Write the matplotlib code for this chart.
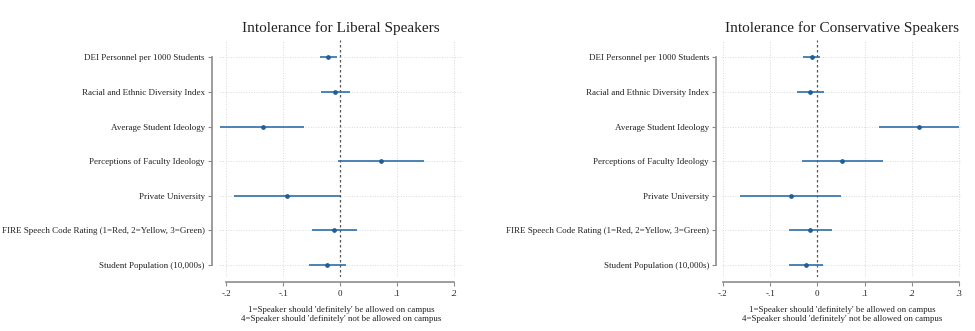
import matplotlib
matplotlib.use("Agg")
import matplotlib.pyplot as plt

labels = [
    "DEI Personnel per 1000 Students",
    "Racial and Ethnic Diversity Index",
    "Average Student Ideology",
    "Perceptions of Faculty Ideology",
    "Private University",
    "FIRE Speech Code Rating (1=Red, 2=Yellow, 3=Green)",
    "Student Population (10,000s)",
]

# Intolerance for liberal speakers
lib_coef = [-0.021, -0.009, -0.136, 0.071, -0.094, -0.010, -0.023]
lib_lo = [-0.036, -0.033, -0.211, -0.003, -0.187, -0.049, -0.055]
lib_hi = [-0.005, 0.018, -0.063, 0.147, 0.000, 0.030, 0.011]

# Intolerance for conservative speakers
con_coef = [-0.012, -0.015, 0.216, 0.052, -0.056, -0.016, -0.025]
con_lo = [-0.031, -0.044, 0.131, -0.033, -0.164, -0.061, -0.061]
con_hi = [0.006, 0.014, 0.300, 0.140, 0.050, 0.031, 0.013]

lib_ticks = [-0.2, -0.1, 0.0, 0.1, 0.2]
lib_ticklabels = ["-.2", "-.1", "0", ".1", ".2"]
con_ticks = [-0.2, -0.1, 0.0, 0.1, 0.2, 0.3]
con_ticklabels = ["-.2", "-.1", "0", ".1", ".2", ".3"]

plt.rcParams["font.family"] = ["Liberation Serif", "DejaVu Serif"]

BLUE = "#2f6fa8"
GRID = "#d9d9d9"
AXIS = "#8c8c8c"
TEXT = "#222222"

fig = plt.figure(figsize=(9.75, 3.31), dpi=100)
fig.patch.set_facecolor("white")


def coef_panel(ax, title, coef, lo, hi, ticks, ticklabels, xlim, left_off):
    ys = list(range(len(labels)))
    for t in ticks:
        if t != 0:
            ax.axvline(t, color=GRID, lw=0.7, ls=":", zorder=0)
    for y in ys:
        ax.axhline(y, color=GRID, lw=0.7, ls=":", zorder=0)
    ax.axvline(0, color="#555555", lw=0.9, ls=(0, (2, 2)), zorder=1)

    ax.hlines(ys, lo, hi, color=BLUE, lw=1.2, zorder=2)
    ax.plot(coef, ys, "o", color="#1f5f96", ms=2.4, zorder=3)

    ax.tick_params(axis="both", colors=AXIS, length=3, width=0.8,
                   labelcolor=TEXT, pad=2)
    ax.tick_params(axis="y", labelsize=6.5)
    ax.tick_params(axis="x", labelsize=6.5, pad=3)
    ax.set_xlim(*xlim)
    ax.set_ylim(6.35, -0.5)
    ax.set_yticks(ys)
    ax.set_yticklabels(labels)
    ax.set_xticks(ticks)
    ax.set_xticklabels(ticklabels)
    for s in ["top", "right"]:
        ax.spines[s].set_visible(False)
    ax.spines["left"].set_position(("outward", left_off))
    ax.spines["bottom"].set_position(("outward", 3.6))
    ax.spines["left"].set_bounds(0, 6)
    ax.spines["bottom"].set_bounds(ticks[0], ticks[-1])
    for s in ["left", "bottom"]:
        ax.spines[s].set_color(AXIS)
        ax.spines[s].set_linewidth(1.2)
    ax.set_title(title, fontsize=11, color=TEXT, pad=6)
    ax.set_xlabel("1=Speaker should 'definitely' be allowed on campus\n"
                  "4=Speaker should 'definitely' not be allowed on campus",
                  fontsize=6.4, color=TEXT, labelpad=5.5, linespacing=1.15)


ax1 = fig.add_axes([0.2256, 0.163, 0.2482, 0.716])
coef_panel(ax1, "Intolerance for Liberal Speakers",
           lib_coef, lib_lo, lib_hi, lib_ticks, lib_ticklabels,
           (-0.211, 0.214), 5.8)

ax2 = fig.add_axes([0.7405, 0.163, 0.246, 0.716])
coef_panel(ax2, "Intolerance for Conservative Speakers",
           con_coef, con_lo, con_hi, con_ticks, con_ticklabels,
           (-0.202, 0.306), 4.3)

fig.savefig("out.png", dpi=100, facecolor="white")
